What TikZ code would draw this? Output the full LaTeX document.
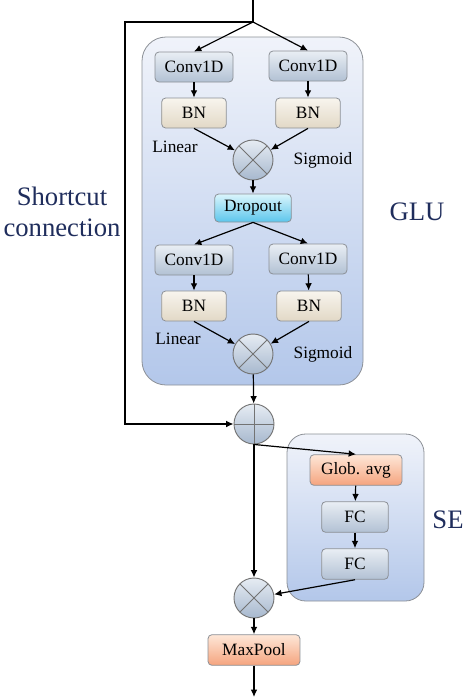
\documentclass[tikz,border=0pt]{standalone}
\usepackage{fontspec}
\setmainfont{Liberation Serif}
\usetikzlibrary{arrows.meta,shapes.geometric,backgrounds}
\definecolor{navy}{HTML}{1F2D5C}
\definecolor{bordergray}{HTML}{8C9096}
\definecolor{grpT}{HTML}{F0F3FA}
\definecolor{grpB}{HTML}{B3C7EA}
\definecolor{convT}{HTML}{E9EEF4}
\definecolor{convB}{HTML}{B2C1D4}
\definecolor{bnT}{HTML}{F8F5EE}
\definecolor{bnB}{HTML}{E2D8C6}
\definecolor{dropT}{HTML}{DAF5FC}
\definecolor{dropB}{HTML}{5CC6EC}
\definecolor{orT}{HTML}{FEE7D8}
\definecolor{orB}{HTML}{F5A47E}
\definecolor{cirT}{HTML}{E6ECF3}
\definecolor{cirB}{HTML}{A7B8CE}
\tikzset{
  box/.style={draw=bordergray, line width=0.6pt, rounded corners=3pt, inner sep=0pt, font=\fontsize{13}{15}\selectfont},
  convbox/.style={box, top color=convT, bottom color=convB, minimum width=58.5pt, minimum height=22.5pt},
  fcbox/.style={box, top color=convT, bottom color=convB, minimum width=50pt, minimum height=23pt},
  bnbox/.style={box, top color=bnT, bottom color=bnB, minimum width=48.5pt, minimum height=22.5pt},
  dropbox/.style={box, top color=dropT, bottom color=dropB, minimum width=57.5pt, minimum height=21pt},
  orbox/.style={box, top color=orT, bottom color=orB, minimum width=69pt, minimum height=23pt},
  group/.style={draw=bordergray, line width=0.6pt, top color=grpT, bottom color=grpB},
  opc/.style={circle, draw=gray!90!black, line width=0.7pt, minimum size=30pt, inner sep=0pt, top color=cirT, bottom color=cirB},
  mult/.style={opc, path picture={\draw[gray!90!black, line width=0.7pt] (path picture bounding box.north west) -- (path picture bounding box.south east) (path picture bounding box.north east) -- (path picture bounding box.south west);}},
  plus/.style={opc, path picture={\draw[gray!90!black, line width=0.7pt] (path picture bounding box.north) -- (path picture bounding box.south) (path picture bounding box.east) -- (path picture bounding box.west);}},
  arr/.style={-{Latex[length=5.5pt,width=5pt]}, line width=0.9pt},
  ln/.style={line width=0.9pt},
  lab/.style={font=\fontsize{13}{15}\selectfont},
  big/.style={font=\fontsize{20}{23}\selectfont, text=navy, align=center}
}
\begin{document}
\begin{tikzpicture}[x=0.75pt,y=-0.75pt]
\useasboundingbox (0,0) rectangle (463,697);
% groups
\draw[group, rounded corners=18pt] (142,37) rectangle (363,385);
\draw[group, rounded corners=14pt] (287,434) rectangle (424,601);
% nodes
\node[convbox] (c1) at (194,67) {Conv1D};
\node[convbox] (c2) at (308,66) {Conv1D};
\node[bnbox] (b1) at (194,113) {BN};
\node[bnbox] (b2) at (308,113) {BN};
\node[mult] (m1) at (253,160) {};
\node[dropbox] (d) at (253,208) {Dropout};
\node[convbox] (c3) at (194,260) {Conv1D};
\node[convbox] (c4) at (308,259) {Conv1D};
\node[bnbox] (b3) at (194,306) {BN};
\node[bnbox] (b4) at (309,306) {BN};
\node[mult] (m2) at (253,354) {};
\node[plus] (p) at (254,424) {};
\node[orbox] (ga) at (356,470) {Glob. avg};
\node[fcbox] (f1) at (355,517) {FC};
\node[fcbox] (f2) at (355,564) {FC};
\node[mult] (m3) at (254,598) {};
\node[orbox] (mp) at (254,650) {MaxPool};
% labels
\node[lab] (l1) at (175,147) {Linear};
\node[lab] (s1) at (323,160) {Sigmoid};
\node[lab] (l2) at (178,339) {Linear};
\node[lab] (s2) at (323,354) {Sigmoid};
\node[big] (glu) at (417,212) {GLU};
\node[big] (se) at (448,520) {SE};
\node[big] (sc) at (62,212) {Shortcut\\connection};
% coordinates
\coordinate (in) at (253,0);
\coordinate (br) at (253,22);
\coordinate (k1) at (125,22);
\coordinate (k2) at (125,424);
\coordinate (out) at (254,697);
% connectors
\draw[ln] (in) -- (br);
\draw[arr] (br) -- (c1.north);
\draw[arr] (br) -- (c2.north);
\draw[arr] (br) -- (k1) -- (k2) -- (p.west);
\draw[arr] (c1) -- (b1);
\draw[arr] (c2) -- (b2);
\draw[arr] (b1.south) -- (m1);
\draw[arr] (b2.south) -- (m1);
\draw[arr] (m1) -- (d);
\draw[arr] (d.south) -- (c3.north);
\draw[arr] (d.south) -- (c4.north);
\draw[arr] (c3) -- (b3);
\draw[arr] (c4) -- (b4);
\draw[arr] (b3.south) -- (m2);
\draw[arr] (b4.south) -- (m2);
\draw[arr] (m2) -- (p);
\draw[arr] (p) -- (m3);
\draw[arr] (p.south) -- (ga.north);
\draw[arr] (ga) -- (f1);
\draw[arr] (f1) -- (f2);
\draw[arr] (f2.south) -- (m3);
\draw[arr] (m3) -- (mp);
\draw[arr] (mp) -- (out);
\end{tikzpicture}
\end{document}
